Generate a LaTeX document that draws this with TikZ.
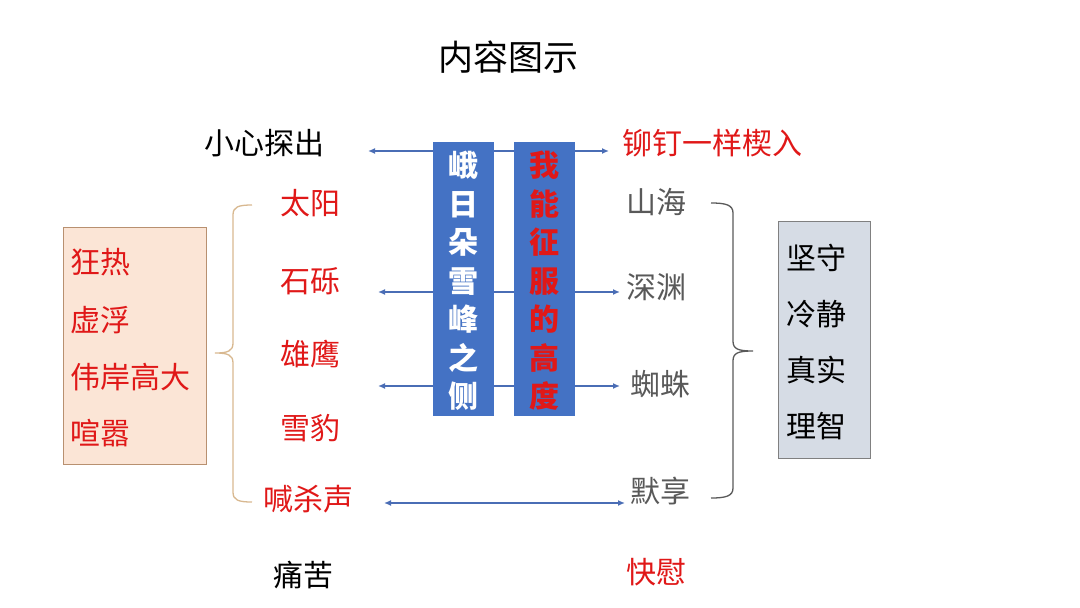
\documentclass[tikz,border=0pt]{standalone}
\usepackage{fontspec}
\setmainfont{Noto Sans CJK SC}
\usetikzlibrary{arrows.meta,decorations.pathreplacing}
\definecolor{myred}{HTML}{E01818}
\definecolor{mygray}{HTML}{595959}
\definecolor{myblue}{HTML}{4472C4}
\definecolor{linkblue}{HTML}{4A6DB5}
\definecolor{tan}{HTML}{D8B890}
\definecolor{peach}{HTML}{FBE5D6}
\definecolor{peachline}{HTML}{B89070}
\definecolor{slate}{HTML}{D6DCE5}
\tikzset{
  lbl/.style={font=\fontsize{30}{36}\selectfont, inner sep=0pt},
  redlbl/.style={lbl, text=myred},
  graylbl/.style={lbl, text=mygray},
  blacklbl/.style={lbl, text=black},
  link/.style={draw=linkblue, line width=1.6pt, {Latex[length=7pt,width=6pt]}-{Latex[length=7pt,width=6pt]}},
  bar/.style={fill=myblue, draw=none, minimum width=61pt, minimum height=274pt, inner sep=0pt, anchor=north west},
  bartext/.style={font=\fontsize{30}{38.5}\selectfont\bfseries, align=center, inner sep=0pt},
}
\begin{document}
\begin{tikzpicture}[x=1pt,y=-1pt]
\useasboundingbox (0,0) rectangle (1080,608);
% title
\node[lbl, font=\fontsize{35}{40}\selectfont] (title) at (508,57) {内容图示};
% arrows (behind bars)
\coordinate (a1l) at (368,151); \coordinate (a1r) at (609,151);
\coordinate (a2l) at (378,292); \coordinate (a2r) at (620,292);
\coordinate (a3l) at (378,386); \coordinate (a3r) at (620,386);
\coordinate (a4l) at (384,503); \coordinate (a4r) at (625,503);
\draw[link] (a1l) -- (a1r);
\draw[link] (a2l) -- (a2r);
\draw[link] (a3l) -- (a3r);
\draw[link] (a4l) -- (a4r);
% bars
\node[bar] (bar1) at (433,142) {};
\node[bar] (bar2) at (514,142) {};
\node[bartext, text=white, anchor=north] (bt1) at ([yshift=-9pt]bar1.north) {峨\\日\\朵\\雪\\峰\\之\\侧};
\node[bartext, text=myred, anchor=north] (bt2) at ([yshift=-9pt]bar2.north) {我\\能\\征\\服\\的\\高\\度};
% top row
\node[blacklbl] (xx) at (264,143) {小心探出};
\node[redlbl] (md) at (712,143) {铆钉一样楔入};
% left labels
\node[redlbl] (ty) at (310,203) {太阳};
\node[redlbl] (sl) at (310,281) {石砾};
\node[redlbl] (xy) at (310,354) {雄鹰};
\node[redlbl] (xb) at (310,428) {雪豹};
\node[redlbl] (hs) at (308,499) {喊杀声};
% right labels
\node[graylbl] (sh) at (656,202) {山海};
\node[graylbl] (sy) at (656,287) {深渊};
\node[graylbl] (zz) at (660,384) {蜘蛛};
\node[graylbl] (mx) at (660,491) {默享};
% bottom
\node[blacklbl] (tk) at (303,575) {痛苦};
\node[redlbl] (kw) at (656,572) {快慰};
% left brace
\coordinate (lbt) at (252,205); \coordinate (lbb) at (252,502); \coordinate (lbtip) at (215,353);
\draw[tan, line width=1.3pt] (lbt) .. controls (238,205) and (233,207) .. (233,215)
  -- (233,343) .. controls (233,351) and (228,353) .. (lbtip)
  .. controls (228,353) and (233,355) .. (233,363)
  -- (233,492) .. controls (233,500) and (238,502) .. (lbb);
% right brace
\coordinate (rbt) at (711,203); \coordinate (rbb) at (711,498); \coordinate (rbtip) at (753,351);
\draw[mygray, line width=1.3pt] (rbt) .. controls (726,203) and (733,205) .. (733,213)
  -- (733,341) .. controls (733,349) and (738,351) .. (rbtip)
  .. controls (738,351) and (733,353) .. (733,361)
  -- (733,488) .. controls (733,496) and (726,498) .. (rbb);
% left box
\node[draw=peachline, fill=peach, line width=1pt, minimum width=143pt, minimum height=237pt, anchor=north west, inner sep=0pt] (lbox) at (63,227) {};
\node[redlbl, anchor=west] (l1) at (70,262) {狂热};
\node[redlbl, anchor=west] (l2) at (70,320) {虚浮};
\node[redlbl, anchor=west] (l3) at (70,377) {伟岸高大};
\node[redlbl, anchor=west] (l4) at (70,433) {喧嚣};
% right box
\node[draw=gray, fill=slate, line width=1pt, minimum width=92pt, minimum height=237pt, anchor=north west, inner sep=0pt] (rbox) at (778,221) {};
\node[blacklbl, anchor=west] (r1) at (786,258) {坚守};
\node[blacklbl, anchor=west] (r2) at (786,314) {冷静};
\node[blacklbl, anchor=west] (r3) at (786,370) {真实};
\node[blacklbl, anchor=west] (r4) at (786,426) {理智};
\end{tikzpicture}
\end{document}
